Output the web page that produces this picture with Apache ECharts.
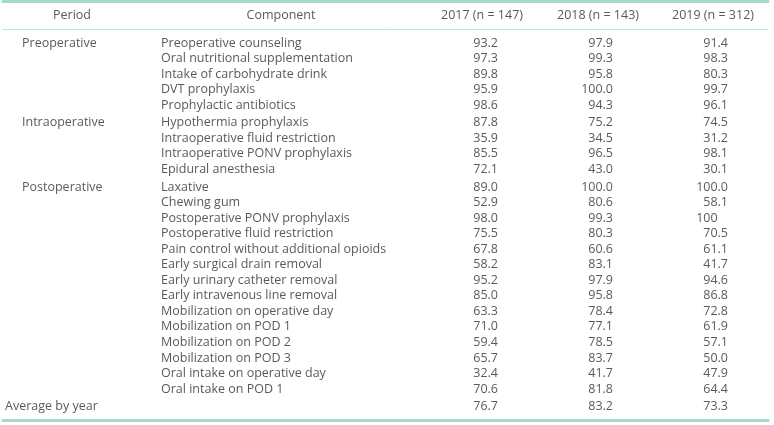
<!DOCTYPE html>
<html>
<head>
<meta charset="utf-8">
<script src="https://cdn.jsdelivr.net/npm/echarts@6/dist/echarts.min.js"></script>
<style>html,body{margin:0;padding:0;background:#fff}#c{width:774px;height:425px}</style>
</head>
<body>
<div id="c"></div>
<script>
// ---- data ----
const headers = ['Period', 'Component', '2017 (n = 147)', '2018 (n = 143)', '2019 (n = 312)'];
const periods = ['Preoperative', 'Intraoperative', 'Postoperative'];
const preopComponents = ['Preoperative counseling', 'Oral nutritional supplementation', 'Intake of carbohydrate drink', 'DVT prophylaxis', 'Prophylactic antibiotics'];
const intraopComponents = ['Hypothermia prophylaxis', 'Intraoperative fluid restriction', 'Intraoperative PONV prophylaxis', 'Epidural anesthesia'];
const postopComponents = ['Laxative', 'Chewing gum', 'Postoperative PONV prophylaxis', 'Postoperative fluid restriction', 'Pain control without additional opioids', 'Early surgical drain removal', 'Early urinary catheter removal', 'Early intravenous line removal', 'Mobilization on operative day', 'Mobilization on POD 1', 'Mobilization on POD 2', 'Mobilization on POD 3', 'Oral intake on operative day', 'Oral intake on POD 1'];
const values2017 = ['93.2','97.3','89.8','95.9','98.6','87.8','35.9','85.5','72.1','89.0','52.9','98.0','75.5','67.8','58.2','95.2','85.0','63.3','71.0','59.4','65.7','32.4','70.6'];
const values2018 = ['97.9','99.3','95.8','100.0','94.3','75.2','34.5','96.5','43.0','100.0','80.6','99.3','80.3','60.6','83.1','97.9','95.8','78.4','77.1','78.5','83.7','41.7','81.8'];
const values2019 = ['91.4','98.3','80.3','99.7','96.1','74.5','31.2','98.1','30.1','100.0','58.1','100','70.5','61.1','41.7','94.6','86.8','72.8','61.9','57.1','50.0','47.9','64.4'];
const averageLabel = 'Average by year';
const averages = ['76.7', '83.2', '73.3'];

// ---- layout ----
const FONT = "'Open Sans', sans-serif";
const FS = 12.5;
const TXT = '#2f2f2f';
const LINE = '#a3dbc8';
const colX = { periodHead: 72, compHead: 281, yearHead: [482, 598, 713], period: 22, avg: 5, comp: 161, yearRight: [498, 613, 728] };
const GROUP_GAP = 0.135;   // extra space (in row units) before each new period block

const groups = [preopComponents, intraopComponents, postopComponents];
const rowNames = [].concat(...groups);
const rowPos = [];
const groupStart = [];
groups.forEach((g, k) => {
  groupStart.push(rowPos.length);
  g.forEach(() => rowPos.push(rowPos.length + k * GROUP_GAP));
});
const avgPos = rowPos.length + groups.length * GROUP_GAP;
const yMax = avgPos + 0.5;
const yearValues = [values2017, values2018, values2019];

function textStyle(extra) {
  return Object.assign({ show: true, position: 'inside', color: TXT, fontFamily: FONT, fontSize: FS, verticalAlign: 'middle' }, extra);
}

const series = [];
series.push({
  type: 'scatter', xAxisIndex: 0, yAxisIndex: 0, symbolSize: 0, silent: true,
  data: headers.map((h, i) => ({ value: [i === 0 ? colX.periodHead : i === 1 ? colX.compHead : colX.yearHead[i - 2], 0], name: h })),
  label: textStyle({ align: 'center', formatter: p => p.name })
});
series.push({
  type: 'scatter', xAxisIndex: 1, yAxisIndex: 1, symbolSize: 0, silent: true,
  data: periods.map((p, k) => ({ value: [colX.period, rowPos[groupStart[k]]], name: p }))
    .concat([{ value: [colX.avg, avgPos], name: averageLabel }]),
  label: textStyle({ align: 'left', formatter: p => p.name })
});
series.push({
  type: 'scatter', xAxisIndex: 1, yAxisIndex: 1, symbolSize: 0, silent: true,
  data: rowNames.map((n, i) => ({ value: [colX.comp, rowPos[i]], name: n })),
  label: textStyle({ align: 'left', formatter: p => p.name })
});
yearValues.forEach((vals, k) => {
  series.push({
    type: 'scatter', xAxisIndex: 1, yAxisIndex: 1, symbolSize: 0, silent: true,
    data: vals.map((v, i) => ({ value: [colX.yearRight[k], rowPos[i]], name: v }))
      .concat([{ value: [colX.yearRight[k], avgPos], name: averages[k] }]),
    label: textStyle({
      align: 'right',
      formatter: p => p.name.indexOf('.') >= 0 ? p.name : p.name + '{g|.0}',
      rich: { g: { color: 'rgba(0,0,0,0)', fontFamily: FONT, fontSize: FS } }
    })
  });
});

const ROW_PX = 15.54;
const FIRST_ROW_Y = 43;
const gridTop = FIRST_ROW_Y - 0.5 * ROW_PX;
const gridH = (yMax + 0.5) * ROW_PX;

const hidden = { axisTick: { show: false }, axisLabel: { show: false }, splitLine: { show: false } };
const chart = echarts.init(document.getElementById('c'), null, { renderer: 'canvas' });
chart.setOption({
  animation: false,
  grid: [
    { left: 3, right: 6, top: 1.5, height: 27.5 },
    { left: 3, right: 6, top: gridTop, height: gridH }
  ],
  xAxis: [
    Object.assign({ gridIndex: 0, type: 'value', min: 3, max: 768, position: 'top', axisLine: { show: true, onZero: false, lineStyle: { color: LINE, width: 3 } } }, hidden),
    Object.assign({ gridIndex: 1, type: 'value', min: 3, max: 768, position: 'bottom', offset: 425 - 4.5 - gridTop - gridH, axisLine: { show: true, onZero: false, lineStyle: { color: LINE, width: 3 } } }, hidden),
    Object.assign({ gridIndex: 0, type: 'value', min: 3, max: 768, position: 'bottom', axisLine: { show: true, onZero: false, lineStyle: { color: '#b8e4d5', width: 1 } } }, hidden)
  ],
  yAxis: [
    { gridIndex: 0, type: 'category', data: ['header'], show: false },
    { gridIndex: 1, type: 'value', min: -0.5, max: yMax, inverse: true, show: false }
  ],
  series: series
});
</script>
</body>
</html>
